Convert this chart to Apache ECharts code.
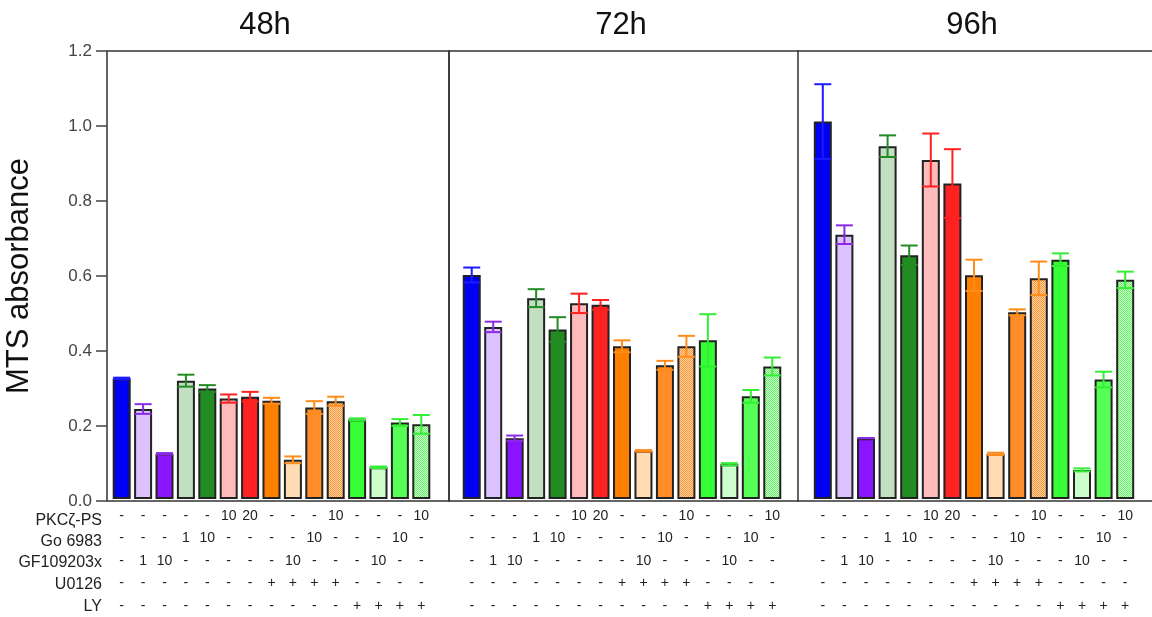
<!DOCTYPE html>
<html>
<head>
<meta charset="utf-8">
<script src="https://cdn.jsdelivr.net/npm/echarts@6/dist/echarts.min.js"></script>
<style>
  html, body { margin: 0; padding: 0; background: #fff; }
  #chart { width: 1152px; height: 617px; }
</style>
</head>
<body>
<div id="chart"></div>
<script>
// MTS absorbance at 48h / 72h / 96h, 15 treatment groups per time point.
const FONT = "'Liberation Sans', Arial, sans-serif";

const panels = ['48h', '72h', '96h'];

// treatment table below the bars (one entry per bar)
const rowNames = ['PKCζ-PS', 'Go 6983', 'GF109203x', 'U0126', 'LY'];
const pkc   = ['-', '-', '-', '-', '-', '10', '20', '-', '-', '-', '10', '-', '-', '-', '10'];
const go    = ['-', '-', '-', '1', '10', '-', '-', '-', '-', '10', '-', '-', '-', '10', '-'];
const gf    = ['-', '1', '10', '-', '-', '-', '-', '-', '10', '-', '-', '-', '10', '-', '-'];
const u0126 = ['-', '-', '-', '-', '-', '-', '-', '+', '+', '+', '+', '-', '-', '-', '-'];
const ly    = ['-', '-', '-', '-', '-', '-', '-', '-', '-', '-', '-', '+', '+', '+', '+'];

// bar means and SEM
const means48 = [0.323, 0.241, 0.121, 0.317, 0.296, 0.269, 0.274, 0.263, 0.105, 0.245, 0.262, 0.213, 0.085, 0.205, 0.200];
const err48   = [0.002, 0.013, 0.002, 0.016, 0.009, 0.011, 0.013, 0.008, 0.009, 0.017, 0.012, 0.003, 0.002, 0.009, 0.025];
const means72 = [0.600, 0.461, 0.163, 0.538, 0.454, 0.524, 0.520, 0.409, 0.129, 0.358, 0.409, 0.425, 0.093, 0.275, 0.355];
const err72   = [0.020, 0.014, 0.007, 0.024, 0.033, 0.026, 0.013, 0.016, 0.002, 0.012, 0.028, 0.070, 0.003, 0.017, 0.024];
const means96 = [1.011, 0.708, 0.163, 0.945, 0.653, 0.908, 0.845, 0.599, 0.121, 0.500, 0.591, 0.641, 0.078, 0.320, 0.587];
const err96   = [0.100, 0.025, 0.000, 0.029, 0.026, 0.071, 0.092, 0.042, 0.003, 0.008, 0.045, 0.017, 0.004, 0.021, 0.022];

const yTicks = { min: 0, max: 1.2, step: 0.2 };

// fine two-colour checker used for the dotted bars
function checker(a, b) {
  const c = document.createElement('canvas');
  c.width = 2; c.height = 2;
  const g = c.getContext('2d');
  g.fillStyle = b; g.fillRect(0, 0, 2, 2);
  g.fillStyle = a; g.fillRect(0, 0, 1, 1); g.fillRect(1, 1, 1, 1);
  return { image: c, repeat: 'repeat' };
}

const barColors = [
  '#0000f5', '#dcc3ff', '#8a14ff', '#c2dfc2', '#228b22', '#ffbbbb', '#ff2222',
  '#ff8000', '#ffdcb4', '#ff8e2a', checker('#ff9838', '#ffd2a6'),
  '#36ff36', '#ccffcc', '#55ff55', checker('#66ee66', '#cfffcf'),
];
const errColors = [
  '#1a1aff', '#8a2be2', '#8a2be2', '#228b22', '#228b22', '#ff2020', '#ff2020',
  '#ff8c1a', '#ff8c1a', '#ff8c1a', '#ff8c1a', '#33ee33', '#33ee33', '#33ee33', '#33ee33',
];

const tableLabels = pkc.map((_, i) => [pkc[i], go[i], gf[i], u0126[i], ly[i]].join('\n'));

const TOP = 51, BOTTOM = 116;
const LINE = { color: '#333', width: 1.5 };
// panel frames and the (narrower) bar areas inside them
const frames = [{ left: 107, width: 342 }, { left: 449, width: 349 }, { left: 798, width: 354 }];
const barAreas = [{ left: 111, width: 321 }, { left: 461, width: 322 }, { left: 812, width: 324 }];
const allMeans = [means48, means72, means96];
const allErr = [err48, err72, err96];

function errorItem(params, api) {
  const lo = api.coord([api.value(0), api.value(1)]);
  const hi = api.coord([api.value(0), api.value(2)]);
  const half = 8.5;
  const style = { stroke: api.visual('color'), lineWidth: 2 };
  return {
    type: 'group',
    children: [
      { type: 'line', shape: { x1: hi[0], y1: hi[1], x2: lo[0], y2: lo[1] }, style },
      { type: 'line', shape: { x1: hi[0] - half, y1: hi[1], x2: hi[0] + half, y2: hi[1] }, style },
      { type: 'line', shape: { x1: lo[0] - half, y1: lo[1], x2: lo[0] + half, y2: lo[1] }, style },
    ],
  };
}

const grid = [], xAxis = [], yAxis = [], series = [];

// frame grids 0..2. The first two get a full border (left axis + separators);
// the last one is open on the right, so only top and bottom axis lines.
frames.forEach((f, k) => {
  const closed = k < 2;
  grid.push({ left: f.left, width: f.width, top: TOP, bottom: BOTTOM, show: closed,
    borderColor: LINE.color, borderWidth: LINE.width, backgroundColor: 'transparent' });
  ['bottom', 'top'].forEach((pos) => {
    xAxis.push({
      type: 'category', gridIndex: k, position: pos, data: [''], show: !closed,
      axisLine: { show: !closed, lineStyle: LINE },
      axisTick: { show: false }, axisLabel: { show: false },
    });
  });
  yAxis.push({
    type: 'value', gridIndex: k, min: yTicks.min, max: yTicks.max, interval: yTicks.step,
    show: k === 0,
    name: k === 0 ? 'MTS absorbance' : '', nameLocation: 'middle', nameGap: 72,
    nameTextStyle: { fontSize: 31, fontFamily: FONT, color: '#111' },
    axisLine: { show: false },
    axisTick: { show: true, length: 11, lineStyle: { color: '#444', width: 1.5 } },
    axisLabel: { fontSize: 17, fontFamily: FONT, color: '#444', margin: 15, formatter: (v) => v.toFixed(1) },
    splitLine: { show: false },
  });
});

// bar grids 3..5
barAreas.forEach((b, k) => {
  const gi = k + 3;
  grid.push({ left: b.left, width: b.width, top: TOP, bottom: BOTTOM });
  const xi = xAxis.length;
  xAxis.push({
    type: 'category', gridIndex: gi, data: tableLabels,
    axisLine: { show: false }, axisTick: { show: false },
    axisLabel: { interval: 0, margin: 6, fontSize: 14, lineHeight: 22.4, fontFamily: FONT, color: '#222' },
  });
  const yi = yAxis.length;
  yAxis.push({ type: 'value', gridIndex: gi, min: yTicks.min, max: yTicks.max, show: false, splitLine: { show: false } });

  series.push({
    type: 'bar', xAxisIndex: xi, yAxisIndex: yi, barWidth: 18, silent: true,
    data: allMeans[k].map((v, i) => ({ value: v, itemStyle: { color: barColors[i] } })),
    itemStyle: { borderColor: '#222', borderWidth: 2 },
  });
  series.push({
    type: 'custom', xAxisIndex: xi, yAxisIndex: yi, silent: true, z: 5,
    renderItem: errorItem,
    encode: { x: 0, y: [1, 2] },
    data: allMeans[k].map((v, i) => ({
      value: [i, v - allErr[k][i], v + allErr[k][i]],
      itemStyle: { color: errColors[i] },
    })),
  });
});

const titleX = [265, 621, 972];
const rowY = [521, 542, 563, 585, 607];
const graphic = [
  ...panels.map((t, k) => ({
    type: 'text', x: titleX[k], y: 25,
    style: { text: t, font: `31px ${FONT}`, fill: '#111', align: 'center', verticalAlign: 'middle' },
  })),
  ...rowNames.map((t, r) => ({
    type: 'text', x: 102, y: rowY[r],
    style: { text: t, font: `16px ${FONT}`, fill: '#222', align: 'right', verticalAlign: 'middle' },
  })),
];

const chart = echarts.init(document.getElementById('chart'), null, { renderer: 'canvas' });
chart.setOption({ animation: false, grid, xAxis, yAxis, series, graphic });
</script>
</body>
</html>
